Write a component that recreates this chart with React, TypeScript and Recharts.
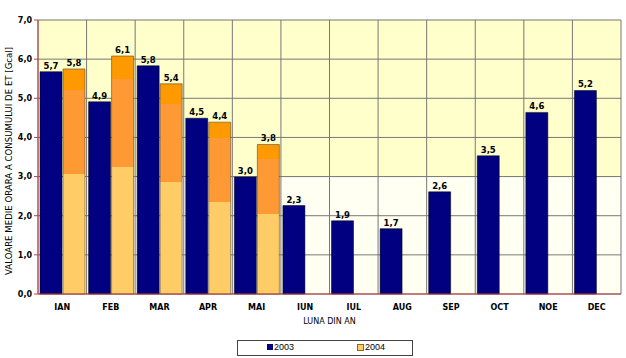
import React from "react"
import {
  Bar,
  BarChart,
  CartesianGrid,
  LabelList,
  ReferenceArea,
  XAxis,
  YAxis,
} from "recharts"

const months = ["IAN", "FEB", "MAR", "APR", "MAI", "IUN", "IUL", "AUG", "SEP", "OCT", "NOE", "DEC"]
const values2003 = [5.68, 4.91, 5.83, 4.49, 2.99, 2.26, 1.87, 1.67, 2.61, 3.53, 4.64, 5.2]
const values2004: (number | null)[] = [5.75, 6.08, 5.37, 4.39, 3.82, null, null, null, null, null, null, null]
const yTicks = [0, 1, 2, 3, 4, 5, 6, 7]
const seriesNames = ["2003", "2004"]

const FONT = "'DejaVu Sans', Verdana, sans-serif"
const AXIS_RED = "#C04040"
const GRID = "#777"

const fmt = (v: unknown) =>
  typeof v === "number" ? v.toFixed(1).replace(".", ",") : ""

// grid lines on the month boundaries, taken from the category axis scale
const monthBoundaries = (props: any) => {
  const scale = props?.xAxis?.scale
  const off = props?.offset
  try {
    const call =
      typeof scale === "function" ? scale : typeof scale?.map === "function" ? (v: string) => scale.map(v) : null
    if (call && typeof scale.bandwidth === "function") {
      const bw = scale.bandwidth()
      const starts = months.map((m) => call(m) as number)
      if (starts.every((s) => typeof s === "number" && !isNaN(s))) {
        return [...starts, starts[starts.length - 1] + bw]
      }
    }
    if (scale && typeof scale.range === "function") {
      const [a, b] = scale.range()
      const step = (b - a) / months.length
      return [...months.map((_, i) => a + i * step), b]
    }
  } catch (e) {
    // fall through
  }
  if (off) {
    const step = off.width / months.length
    return [...months.map((_, i) => off.left + i * step), off.left + off.width]
  }
  return []
}

export default function App() {
  const data = months.map((m, i) => ({
    month: m,
    y2003: values2003[i],
    y2004: values2004[i],
  }))

  return (
    <div style={{ position: "relative", width: 626, height: 358, background: "#fff" }}>
      <style>{"body{margin:0}"}</style>
      <BarChart
        width={626}
        height={358}
        data={data}
        margin={{ top: 20, right: 5, left: 0, bottom: 24 }}
        barCategoryGap={2}
        barGap={1}
      >
        <defs>
          <linearGradient id="g2004" x1="0" y1="1" x2="0" y2="0">
            <stop offset="0" stopColor="#FFCC66" />
            <stop offset="0.535" stopColor="#FFCC66" />
            <stop offset="0.535" stopColor="#FF9933" />
            <stop offset="0.905" stopColor="#FF9933" />
            <stop offset="0.905" stopColor="#FF9900" />
            <stop offset="1" stopColor="#FF9900" />
          </linearGradient>
        </defs>
        <ReferenceArea y1={0} y2={3} fill="#FFFFF2" fillOpacity={1} stroke="none" zIndex={-150} />
        <ReferenceArea y1={3} y2={7} fill="#FFFFCC" fillOpacity={1} stroke="none" zIndex={-150} />
        <CartesianGrid
          stroke={GRID}
          strokeWidth={1}
          verticalCoordinatesGenerator={monthBoundaries}
        />
        <XAxis
          dataKey="month"
          height={40}
          stroke={AXIS_RED}
          tickLine={false}
          tickSize={6}
          tickMargin={4}
          interval={0}
          tick={{ fill: "#000", fontSize: 8, fontWeight: "bold", fontFamily: FONT }}
          label={{
            value: "LUNA DIN AN",
            position: "insideBottom",
            offset: 10,
            fill: "#000",
            fontSize: 8,
            fontFamily: FONT,
          }}
        />
        <YAxis
          width={38}
          domain={[0, 7]}
          ticks={yTicks}
          stroke={AXIS_RED}
          tickSize={4}
          tickMargin={2}
          tickFormatter={fmt}
          tick={{ fill: "#000", fontSize: 8, fontWeight: "bold", fontFamily: FONT }}
          label={{
            value: "VALOARE MEDIE ORARA A CONSUMULUI DE ET [Gcal]",
            angle: -90,
            position: "center",
            dx: -10,
            dy: 4,
            fill: "#000",
            fontSize: 8.6,
            fontFamily: FONT,
          }}
        />
        <Bar dataKey="y2003" name={seriesNames[0]} fill="#000080" stroke="#000" strokeWidth={0.5} isAnimationActive={false}>
          <LabelList
            dataKey="y2003"
            position="top"
            offset={3}
            formatter={fmt}
            style={{ fill: "#000", fontSize: 8.5, fontWeight: "bold", fontFamily: FONT }}
          />
        </Bar>
        <Bar dataKey="y2004" name={seriesNames[1]} fill="url(#g2004)" stroke="#333" strokeWidth={0.5} isAnimationActive={false}>
          <LabelList
            dataKey="y2004"
            position="top"
            offset={3}
            formatter={fmt}
            style={{ fill: "#000", fontSize: 8.5, fontWeight: "bold", fontFamily: FONT }}
          />
        </Bar>
      </BarChart>
      <div
        style={{
          position: "absolute",
          left: 237,
          top: 340,
          width: 174,
          height: 14,
          border: "1px solid #444",
          fontFamily: "'Liberation Sans', Arial, sans-serif",
          fontSize: 9,
          color: "#000",
        }}
      >
        <span style={{ position: "absolute", left: 29, top: 1, display: "flex", alignItems: "center" }}>
          <span style={{ display: "inline-block", width: 6, height: 6, background: "#000080", marginRight: 1 }} />
          {seriesNames[0]}
        </span>
        <span style={{ position: "absolute", left: 119, top: 1, display: "flex", alignItems: "center" }}>
          <span
            style={{
              display: "inline-block",
              width: 5,
              height: 5,
              background: "#FFCC66",
              border: "1px solid #8a6a20",
              marginRight: 1,
            }}
          />
          {seriesNames[1]}
        </span>
      </div>
    </div>
  )
}
